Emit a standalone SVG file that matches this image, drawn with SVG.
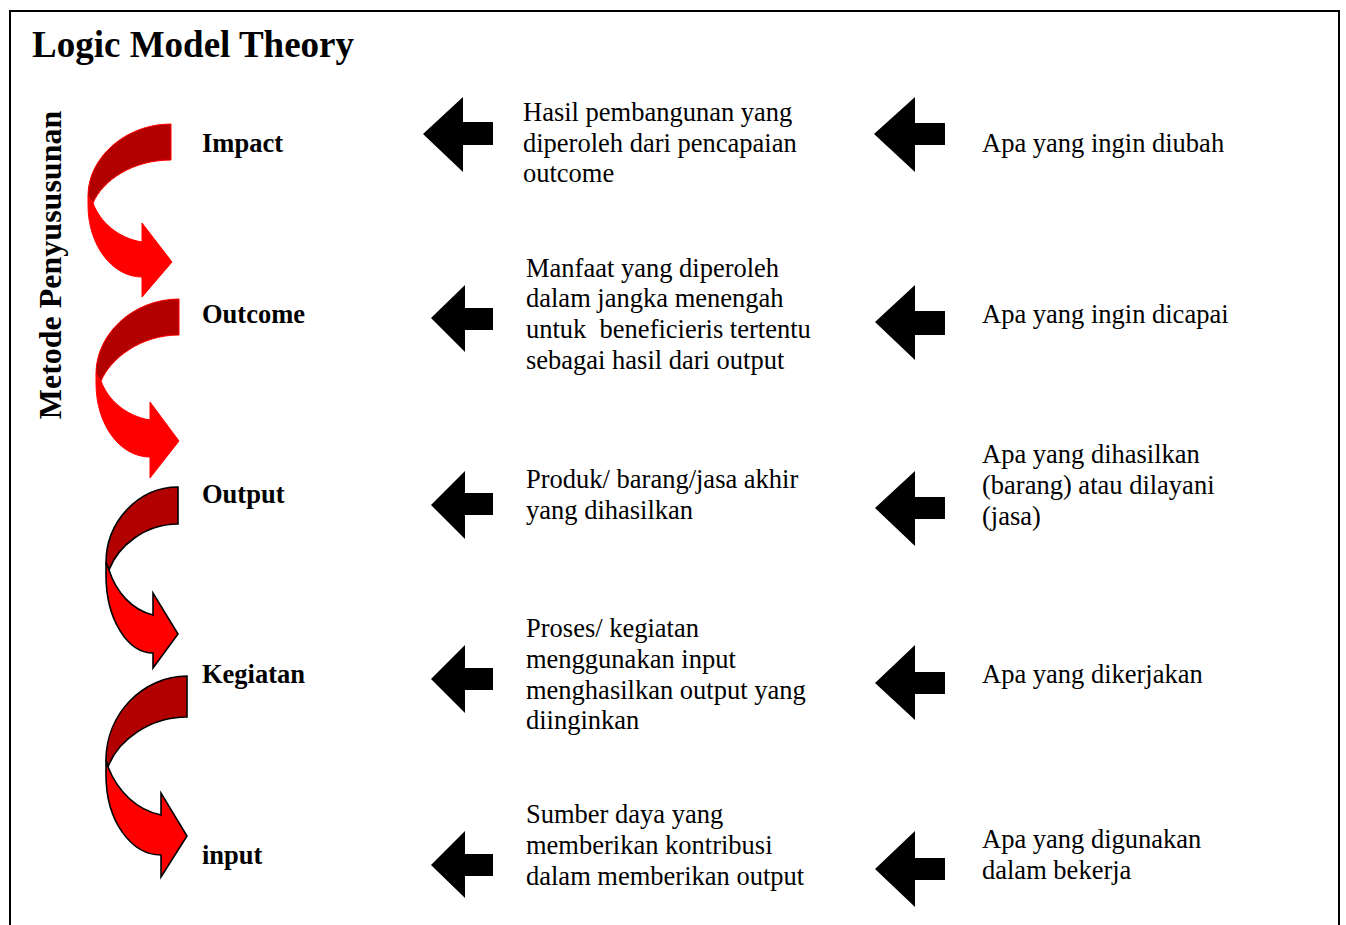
<svg xmlns="http://www.w3.org/2000/svg" width="1346" height="925" viewBox="0 0 1346 925">
  <style>
    .title { font-family: "Liberation Serif", "Times New Roman", serif; font-size: 37px; font-weight: bold; fill: #000; }
    .label { font-family: "Liberation Serif", "Times New Roman", serif; font-size: 26.5px; font-weight: bold; fill: #000; }
    .side { font-family: "Liberation Serif", "Times New Roman", serif; font-size: 32px; font-weight: bold; fill: #000; }
    .body { font-family: "Liberation Serif", "Times New Roman", serif; font-size: 26.5px; fill: #000; }
    .back { fill: #b20000; }
    .front { fill: #ff0000; }
    .redline { stroke: #ff0000; stroke-width: 1; stroke-linejoin: round; }
    .blackline { stroke: #000; stroke-width: 1.6; stroke-linejoin: miter; }
    .block { fill: #000; stroke: none; }
  </style>

  <rect x="0" y="0" width="1346" height="925" fill="#fff"/>
  <rect x="10" y="11" width="1329" height="940" fill="none" stroke="#000" stroke-width="2"/>

  <text class="title" x="32" y="57">Logic Model Theory</text>
  <text class="side" x="61" y="265" text-anchor="middle" transform="rotate(-90 61 265)">Metode Penyususunan</text>

  <!-- curved arrows linking the levels -->
  <g id="curves">
    <g id="curve-impact-outcome">
      <path class="back redline" d="M171,124 C125,124 88,158 88,196 L93,203 C103,180 133,160 171,160 Z"/>
      <path class="front redline" d="M88,196 L88,205 C88,245 112,277 142,277 L142,297 L172,262 L142,223 L142,242 C118,238 100,222 93,203 Z"/>
    </g>
    <g id="curve-outcome-output">
      <path class="back redline" d="M179,299 C133,299 96,334 96,374 L101,381 C111,358 141,335 179,335 Z"/>
      <path class="front redline" d="M96,374 L96,383 C96,425 120,457 150,457 L150,478 L179,441 L150,402 L150,420 C126,416 108,400 101,381 Z"/>
    </g>
    <g id="curve-output-kegiatan">
      <path class="back blackline" d="M178,487 C138,487 106,522 106,563 L109,570 C118,546 145,524 178,524 Z"/>
      <path class="front blackline" d="M106,563 L106,575 C106,620 128,653 153,653 L153,668 L178,634 L153,593 L153,615 C132,610 116,592 109,570 Z"/>
    </g>
    <g id="curve-kegiatan-input">
      <path class="back blackline" d="M187,676 C143,676 106,714 106,760 L108,767 C118,740 150,717 187,717 Z"/>
      <path class="front blackline" d="M106,760 L106,775 C106,822 132,855 161,855 L161,877 L187,836 L161,793 L161,815 C137,810 118,792 108,767 Z"/>
    </g>
  </g>

  <!-- level names -->
  <g id="level-impact"><text class="label" x="202" y="152">Impact</text></g>
  <g id="level-outcome"><text class="label" x="202" y="323">Outcome</text></g>
  <g id="level-output"><text class="label" x="202" y="503">Output</text></g>
  <g id="level-kegiatan"><text class="label" x="202" y="683">Kegiatan</text></g>
  <g id="level-input"><text class="label" x="202" y="864">input</text></g>

  <!-- block arrows pointing left -->
  <g id="connectors">
    <path class="block" d="M423,134 L463,97 L463,122 L493,122 L493,145 L463,145 L463,172 Z"/>
    <path class="block" d="M874,134 L915,97 L915,123 L945,123 L945,145 L915,145 L915,172 Z"/>

    <path class="block" d="M431,318 L465,285 L465,308 L493,308 L493,330 L465,330 L465,352 Z"/>
    <path class="block" d="M875,322 L915,285 L915,311 L945,311 L945,335 L915,335 L915,360 Z"/>

    <path class="block" d="M431,505 L465,471 L465,493 L493,493 L493,515 L465,515 L465,539 Z"/>
    <path class="block" d="M875,508 L915,471 L915,497 L945,497 L945,519 L915,519 L915,546 Z"/>

    <path class="block" d="M431,679 L465,645 L465,668 L493,668 L493,690 L465,690 L465,713 Z"/>
    <path class="block" d="M875,683 L915,645 L915,672 L945,672 L945,694 L915,694 L915,720 Z"/>

    <path class="block" d="M431,865 L465,831 L465,854 L493,854 L493,876 L465,876 L465,898 Z"/>
    <path class="block" d="M875,869 L915,831 L915,858 L945,858 L945,880 L915,880 L915,907 Z"/>
  </g>

  <!-- definitions -->
  <g id="def-impact">
    <text class="body" x="523" y="121">Hasil pembangunan yang</text>
    <text class="body" x="523" y="152">diperoleh dari pencapaian</text>
    <text class="body" x="523" y="182">outcome</text>
  </g>
  <g id="def-outcome">
    <text class="body" x="526" y="277">Manfaat yang diperoleh</text>
    <text class="body" x="526" y="307">dalam jangka menengah</text>
    <text class="body" x="526" y="338" xml:space="preserve">untuk  beneficieris tertentu</text>
    <text class="body" x="526" y="369">sebagai hasil dari output</text>
  </g>
  <g id="def-output">
    <text class="body" x="526" y="488">Produk/ barang/jasa akhir</text>
    <text class="body" x="526" y="519">yang dihasilkan</text>
  </g>
  <g id="def-kegiatan">
    <text class="body" x="526" y="637">Proses/ kegiatan</text>
    <text class="body" x="526" y="668">menggunakan input</text>
    <text class="body" x="526" y="699">menghasilkan output yang</text>
    <text class="body" x="526" y="729">diinginkan</text>
  </g>
  <g id="def-input">
    <text class="body" x="526" y="823">Sumber daya yang</text>
    <text class="body" x="526" y="854">memberikan kontribusi</text>
    <text class="body" x="526" y="885">dalam memberikan output</text>
  </g>

  <!-- guiding questions -->
  <g id="q-impact"><text class="body" x="982" y="152">Apa yang ingin diubah</text></g>
  <g id="q-outcome"><text class="body" x="982" y="323">Apa yang ingin dicapai</text></g>
  <g id="q-output">
    <text class="body" x="982" y="463">Apa yang dihasilkan</text>
    <text class="body" x="982" y="494">(barang) atau dilayani</text>
    <text class="body" x="982" y="525">(jasa)</text>
  </g>
  <g id="q-kegiatan"><text class="body" x="982" y="683">Apa yang dikerjakan</text></g>
  <g id="q-input">
    <text class="body" x="982" y="848">Apa yang digunakan</text>
    <text class="body" x="982" y="879">dalam bekerja</text>
  </g>
</svg>
